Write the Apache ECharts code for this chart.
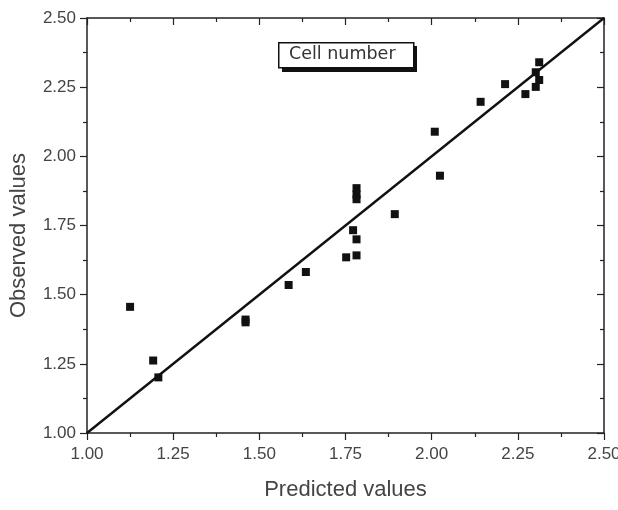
<!DOCTYPE html>
<html><head><meta charset="utf-8">
<script src="https://cdn.jsdelivr.net/npm/echarts@6/dist/echarts.min.js"></script>
<style>html,body{margin:0;padding:0;background:#fff}#c{width:618px;height:510px}</style>
</head><body><div id="c"></div>
<script>
const predicted = [1.125,1.192,1.207,1.46,1.46,1.585,1.635,1.752,1.772,1.782,1.782,1.782,1.782,1.782,1.893,2.009,2.024,2.142,2.213,2.272,2.302,2.312,2.302,2.312];
const observed  = [1.456,1.262,1.201,1.40,1.41,1.535,1.582,1.635,1.733,1.700,1.642,1.885,1.862,1.845,1.791,2.089,1.930,2.197,2.261,2.225,2.251,2.276,2.304,2.340];
const fitLine = [[1.0,1.0],[2.5,2.5]];
const xTitle = 'Predicted values';
const yTitle = 'Observed values';
const boxLabel = 'Cell number';

const chart = echarts.init(document.getElementById('c'));
const axisBase = {min:1, max:2.5, interval:0.25,
  axisLine:{show:true, onZero:false, lineStyle:{color:'#222', width:1.5}},
  splitLine:{show:false},
  minorTick:{show:true, splitNumber:2, length:4, lineStyle:{color:'#222', width:1.2}},
  minorSplitLine:{show:false}};
const fmt = v => v.toFixed(2);
const lblStyle = {fontFamily:'Liberation Sans', fontSize:17, color:'#444'};
chart.setOption({
  animation:false,
  grid:{left:87, right:14, top:18, bottom:77, containLabel:false, outerBoundsMode:'none'},
  xAxis:[
    Object.assign({}, axisBase, {type:'value', position:'bottom', name:xTitle, nameLocation:'middle', nameGap:46,
      nameTextStyle:{fontFamily:'Liberation Sans', fontSize:22, color:'#444'},
      axisTick:{show:true, inside:false, length:7, lineStyle:{color:'#222', width:1.2}},
      axisLabel:Object.assign({show:true, formatter:fmt, margin:13, hideOverlap:false}, lblStyle)}),
    Object.assign({}, axisBase, {type:'value', position:'top',
      axisTick:{show:true, inside:true, length:7, lineStyle:{color:'#222', width:1.2}},
      axisLabel:{show:false}})
  ],
  yAxis:[
    Object.assign({}, axisBase, {type:'value', position:'left', name:yTitle, nameLocation:'middle', nameGap:57,
      nameTextStyle:{fontFamily:'Liberation Sans', fontSize:22, color:'#444', padding:[0,20,0,0]},
      axisTick:{show:true, inside:false, length:7, lineStyle:{color:'#222', width:1.2}},
      axisLabel:Object.assign({show:true, formatter:fmt, margin:11}, lblStyle)}),
    Object.assign({}, axisBase, {type:'value', position:'right',
      axisTick:{show:true, inside:true, length:7, lineStyle:{color:'#222', width:1.2}},
      axisLabel:{show:false}})
  ],
  series:[
    {type:'line', data:fitLine, xAxisIndex:0, yAxisIndex:0, showSymbol:false, symbol:'none',
     lineStyle:{color:'#111', width:2.4}, z:2},
    {type:'scatter', data:predicted.map((x,i)=>[x,observed[i]]), xAxisIndex:0, yAxisIndex:0,
     symbol:'rect', symbolSize:8, itemStyle:{color:'#111', opacity:1}, z:3}
  ],
  graphic:[
    {type:'rect', left:282, top:46, shape:{width:135, height:26}, style:{fill:'#111'}, z:10},
    {type:'rect', left:278, top:42, shape:{width:135, height:25}, style:{fill:'#fff', stroke:'#111', lineWidth:1.5}, z:11},
    {type:'text', left:289, top:45, style:{text:boxLabel, fontFamily:'DejaVu Sans', fontSize:17.5, fill:'#333'}, z:12}
  ]
});
</script></body></html>
